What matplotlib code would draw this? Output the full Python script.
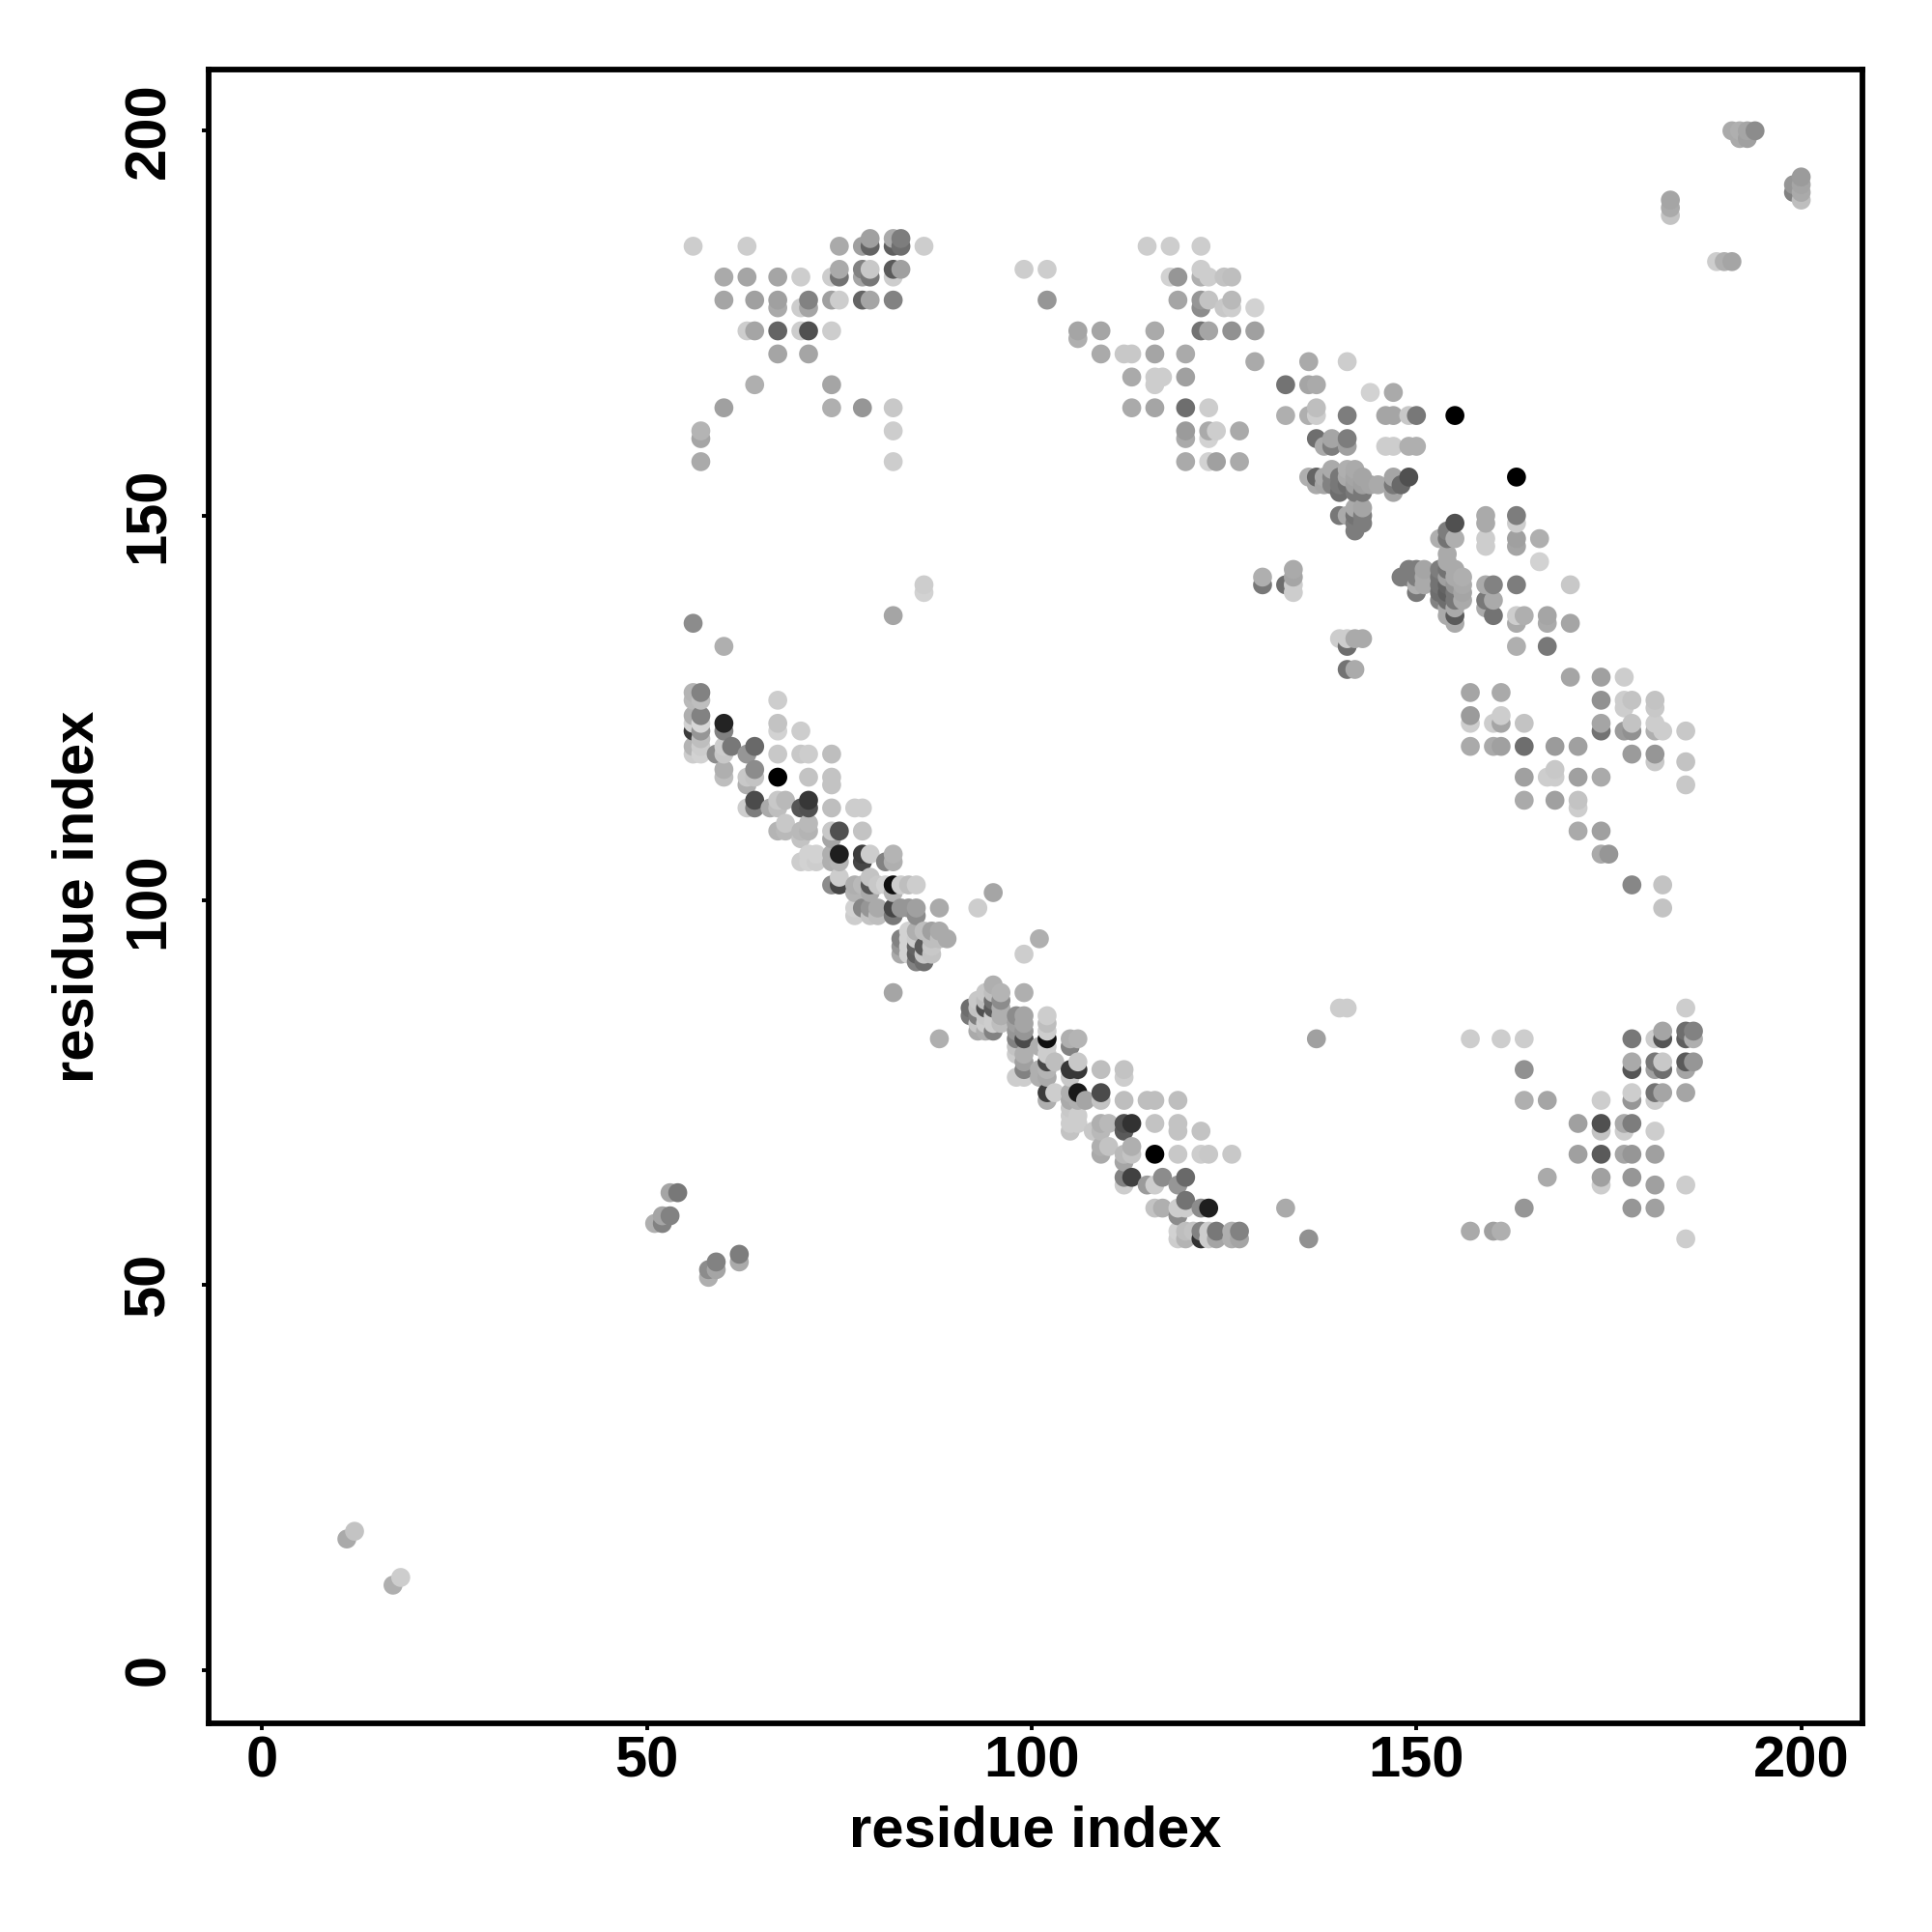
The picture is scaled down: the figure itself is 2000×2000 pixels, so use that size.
import numpy as np
import matplotlib
matplotlib.use("Agg")
import matplotlib.pyplot as plt

plt.rcParams['font.family'] = ['Liberation Sans', 'DejaVu Sans']
plt.rcParams['font.weight'] = 'bold'

# contacts: (residue x, residue y, grey level 0-255)
band_low_left = [
    (56,127,180),(56,126,185),(56,124,175),(56,123,210),(56,122,60),(56,120,180),(56,119,205),
    (57,127,130),(57,126,190),(57,124,130),(57,123,215),(57,122,150),(57,121,190),(57,120,205),(57,119,210),
    (59,119,140),(60,123,35),(60,122,130),(60,120,205),(60,119,200),(60,117,175),(60,116,190),(61,120,120),
    (63,119,150),(63,116,200),(63,115,175),(63,112,205),(64,120,105),(64,117,140),(64,116,195),(64,113,75),(64,112,125),
    (66,112,170),(67,126,205),(67,123,195),(67,122,210),(67,119,200),(67,116,0),(67,113,200),(67,112,190),(67,109,180),
    (68,113,185),(68,110,200),(68,109,185),(70,122,205),(70,119,200),(70,112,85),(70,109,185),(70,108,195),(70,105,205),
    (71,119,205),(71,116,195),(71,113,55),(71,112,80),(71,110,185),(71,109,180),(71,106,210),(71,105,210),(72,106,210),(72,105,205),
    (74,119,190),(74,116,195),(74,115,195),(74,112,190),(74,109,200),(74,108,165),(74,106,175),(74,105,175),(74,102,140),
    (75,109,80),(75,106,30),(75,105,180),(75,103,205),(75,102,70),
    (77,112,205),(77,102,175),(77,101,180),(77,99,210),(77,98,205),(78,112,205),(78,109,195),(78,106,60),(78,105,70),(78,102,185),(78,99,135),
    (79,106,205),(79,103,195),(79,102,85),(79,101,170),(79,99,150),(79,98,195),(80,102,200),(80,99,170),(80,98,190),
    (81,105,130),(81,102,210),(82,106,180),(82,105,175),(82,102,15),(82,101,180),(82,99,70),(82,98,120),(83,102,205),(83,99,150),
    (84,102,190),(84,99,150),(85,102,205),(85,99,160),(85,98,140),(88,99,170),(93,99,205),(95,101,165),
    (83,95,130),(83,94,150),(83,93,170),(84,96,210),(84,95,210),(84,94,210),(84,93,210),
    (85,96,175),(85,95,205),(85,94,100),(85,93,95),(85,92,130),(86,96,190),(86,94,90),(86,93,200),(86,92,110),
    (87,96,160),(87,95,190),(87,94,200),(87,93,195),(88,96,170),(88,95,190),(89,95,170),(82,88,165),(88,82,175),
]

band_low_right = [
    (99,93,205),(101,95,175),(99,88,175),
    (92,86,110),(92,85,120),(93,87,200),(93,86,195),(93,85,125),(93,84,200),(93,83,170),
    (94,88,200),(94,87,190),(94,86,80),(94,85,200),(94,84,205),(94,83,175),
    (95,89,175),(95,88,190),(95,87,110),(95,86,90),(95,85,205),(95,84,205),(95,83,130),
    (96,88,180),(96,87,140),(96,86,175),(96,85,175),(96,84,190),
    (98,85,140),(98,84,160),(98,83,150),(98,82,130),(98,81,195),(98,80,205),(98,77,205),
    (99,85,165),(99,84,165),(99,83,150),(99,82,75),(99,80,175),(99,79,160),(99,78,130),(99,77,205),
    (101,81,175),(101,78,175),(101,77,175),
    (102,85,205),(102,84,190),(102,83,205),(102,82,15),(102,81,205),(102,80,205),(102,79,70),(102,78,180),(102,77,170),(102,75,60),(102,74,175),
    (103,79,190),(103,75,205),
    (105,82,175),(105,81,130),(105,78,55),(105,77,200),(105,75,175),(105,74,170),(105,73,200),(105,72,205),(105,71,205),(105,70,195),
    (106,82,180),(106,79,200),(106,78,55),(106,75,25),(106,74,175),(106,72,205),(106,71,205),(107,74,165),(108,70,200),
    (109,78,190),(109,75,75),(109,74,195),(109,71,175),(109,70,185),(109,68,175),(109,67,170),(110,71,185),(110,68,195),
    (112,78,195),(112,77,205),(112,74,190),(112,71,80),(112,70,90),(112,67,185),(112,66,165),(112,64,130),(112,63,205),
    (113,71,50),(113,68,175),(113,67,195),(113,64,65),(115,74,190),(115,63,155),
    (116,74,190),(116,71,195),(116,67,0),(116,63,205),(116,60,195),(117,64,140),(117,60,175),
    (119,74,190),(119,71,195),(119,70,195),(119,67,200),(119,63,150),(119,60,205),(119,59,140),
    (120,64,105),(120,61,115),(120,60,205),(122,70,195),(122,67,205),(122,60,140),(123,67,200),(123,60,30),(126,67,200),
    (119,57,210),(119,56,205),(120,57,190),(120,56,180),(121,57,195),(122,57,130),(122,56,50),
    (123,57,205),(123,56,205),(124,57,120),(124,56,165),(126,57,175),(126,56,175),(127,57,130),(127,56,165),
]

cross_upper_left = [
    (56,185,205),(63,185,205),(75,185,170),(78,185,160),(79,186,160),(79,185,100),(82,186,170),(82,185,95),(83,186,125),(83,185,110),(86,185,205),
    (60,181,170),(63,181,165),(67,181,165),(70,181,205),(74,181,205),(75,182,170),(75,181,115),(78,182,130),(78,181,165),
    (79,182,200),(79,181,120),(82,182,90),(82,181,205),(83,182,160),
    (60,178,165),(64,178,160),(67,178,160),(67,177,170),(70,177,205),(71,178,130),(71,177,165),(74,178,160),(75,178,205),(78,178,100),(79,178,165),(82,178,130),
    (63,174,205),(64,174,165),(67,174,100),(70,174,205),(71,174,80),(74,174,205),(67,171,165),(71,171,165),(64,167,175),(74,167,165),
    (60,164,160),(74,164,175),(78,164,150),(82,164,200),(57,161,180),(57,160,165),(82,161,205),(57,157,170),(82,157,205),
    (56,136,140),(60,133,175),(82,137,165),(86,141,205),(86,140,210),
]

band_up_left = [
    (99,182,205),(102,182,205),(102,178,150),(106,174,165),(106,173,175),
    (115,185,205),(118,185,205),(122,185,205),(122,182,205),(118,181,210),(119,181,150),(122,181,175),(123,181,205),(125,181,195),(126,181,190),
    (119,178,165),(122,178,150),(123,178,195),(126,178,185),(122,177,140),(125,177,200),(126,177,205),(129,177,210),
    (109,174,165),(116,174,170),(122,174,115),(123,174,165),(126,174,145),(129,174,160),
    (109,171,170),(112,171,200),(113,171,200),(116,171,165),(120,171,170),(129,170,170),(136,170,170),(141,170,205),
    (113,168,170),(116,168,205),(117,168,205),(120,168,160),(116,167,205),(133,167,115),(136,167,165),(137,167,170),(144,166,210),(147,166,170),
    (113,164,170),(116,164,165),(120,164,110),(123,164,205),(133,163,175),(136,163,175),(137,164,190),(137,163,205),(141,163,125),
    (146,163,165),(147,163,165),(149,163,200),(150,163,120),(155,163,0),
    (120,161,155),(123,161,170),(124,161,205),(127,161,170),(120,160,170),(123,160,210),(137,160,110),(139,160,165),(141,160,125),
    (138,159,170),(139,159,125),(141,159,160),(146,159,205),(147,159,205),(149,159,175),(150,159,175),
    (120,157,170),(123,157,210),(124,157,160),(127,157,170),(139,156,170),(141,156,175),(142,156,170),
    (136,155,175),(137,155,100),(138,155,170),(139,155,130),(140,155,120),(141,155,170),(142,155,165),(143,155,165),(147,155,165),(149,155,80),(163,155,0),
    (137,154,170),(138,154,165),(139,154,130),(140,154,120),(141,154,110),(142,154,160),(143,154,160),(144,154,165),(145,154,170),(147,154,120),(148,154,105),
    (140,153,110),(142,153,120),(143,153,120),(147,153,165),(142,151,170),(143,151,165),
    (140,150,120),(141,150,170),(142,150,115),(143,150,125),(142,149,125),(143,149,125),(142,148,125),
]

band_up_right = [
    (159,150,170),(159,149,170),(159,147,205),(159,146,205),(163,150,125),(163,149,205),(163,147,160),(163,146,165),(166,147,175),(166,144,210),
    (155,149,80),(154,148,125),(153,147,175),(154,147,115),(155,147,175),(154,145,170),(154,144,170),
    (130,142,175),(130,141,120),(134,143,170),(134,142,165),(133,141,110),(134,141,205),(134,140,205),
    (149,143,125),(150,143,125),(151,143,165),(148,142,125),(149,142,125),(150,142,125),(151,142,170),
    (153,143,125),(154,143,115),(155,143,170),(153,142,115),(154,142,160),(155,142,170),(156,142,175),
    (150,141,175),(151,141,170),(153,141,115),(154,141,100),(155,141,150),(156,141,170),
    (150,140,120),(153,140,110),(154,140,95),(155,140,120),(156,140,165),
    (153,139,130),(154,139,110),(155,139,120),(156,139,170),(154,138,170),(155,138,170),(154,137,170),(155,137,90),(155,136,170),
    (159,141,170),(160,141,130),(163,141,125),(170,141,200),(159,139,120),(160,139,170),(159,138,170),(160,137,115),
    (163,137,205),(164,137,175),(163,136,170),(167,137,165),(167,136,170),(170,136,165),(163,133,175),(167,133,120),
    (140,134,205),(141,134,205),(142,134,170),(143,134,170),(141,133,110),(141,130,115),(142,130,170),
]

cross_upper_right = [
    (170,129,165),(174,129,160),(177,129,205),(157,127,165),(161,127,170),(174,126,145),(177,126,205),(178,126,195),(181,126,195),(177,125,205),(181,125,200),
    (157,124,155),(157,123,205),(160,123,205),(161,124,205),(161,123,165),(164,123,195),(174,123,165),(178,123,195),(181,123,205),
    (174,122,115),(177,122,155),(178,122,145),(181,122,175),(182,122,205),(185,122,200),
    (157,120,170),(160,120,170),(161,120,160),(164,120,110),(168,120,155),(171,120,160),(178,119,155),(181,119,150),(181,118,200),(185,118,195),
    (164,116,160),(167,116,205),(168,117,200),(168,116,205),(171,116,160),(174,116,170),(185,115,200),
    (164,113,170),(168,113,160),(171,113,195),(171,112,205),(171,109,170),(174,109,160),(174,106,170),(175,106,150),(178,102,135),(182,102,195),(182,99,195),
]

cross_lower_right = [
    (185,86,205),(157,82,205),(161,82,205),(164,82,205),(178,82,120),(181,82,205),(182,83,165),(182,82,85),(185,83,110),(185,82,95),(186,83,130),(186,82,175),
    (164,78,145),(178,79,170),(178,78,85),(181,79,120),(181,78,160),(182,79,200),(182,78,110),(185,79,90),(185,78,165),(186,79,150),
    (164,74,175),(167,74,165),(174,74,205),(178,75,205),(178,74,150),(181,75,115),(181,74,205),(182,75,165),(185,75,165),
    (171,71,160),(174,71,80),(174,70,195),(177,71,170),(177,70,205),(178,71,125),(181,70,205),
    (171,67,160),(174,67,90),(177,67,165),(178,67,150),(181,67,160),
    (167,64,170),(174,64,160),(174,63,205),(178,64,150),(181,63,160),(185,63,205),
    (164,60,150),(178,60,150),(181,60,160),(157,57,170),(160,57,160),(161,57,175),(185,56,205),
    (136,56,145),(133,60,170),(137,82,160),(140,86,205),(141,86,205),
]

small_patches = [
    (51,58,175),(52,58,130),(52,59,165),(53,59,130),(53,62,165),(54,62,120),
    (58,51,175),(58,52,140),(59,52,165),(59,53,130),(62,53,170),(62,54,125),
    (11,17,170),(12,18,195),(17,11,175),(18,12,205),
    (183,189,195),(183,190,170),(183,191,165),(189,183,205),(190,183,175),(191,183,165),
    (191,200,170),(192,200,175),(193,200,165),(194,200,140),(192,199,170),(193,199,160),
    (199,193,150),(199,192,130),(200,194,155),(200,193,165),(200,192,170),(200,191,190),
]

tick_values = [0, 50, 100, 150, 200]

contacts = np.array(band_low_left + band_low_right + cross_upper_left + band_up_left
                    + band_up_right + cross_upper_right + cross_lower_right + small_patches, dtype=float)
# later residues sit on top of earlier ones, same as the original draw order
contacts = contacts[np.lexsort((contacts[:, 1], contacts[:, 0]))]
grey = contacts[:, 2] / 255.0

fig = plt.figure(figsize=(10, 10), dpi=200)
ax = fig.add_axes([216 / 2000, 1 - 1784 / 2000, (1928 - 216) / 2000, (1784 - 72) / 2000])
ax.scatter(contacts[:, 0], contacts[:, 1], s=50, c=np.column_stack([grey, grey, grey]), linewidths=0)

ax.set_xlim(-6.96, 207.96)
ax.set_ylim(-6.96, 207.96)
ax.set_xticks(tick_values)
ax.set_yticks(tick_values)
ax.tick_params(axis='both', length=2.6, width=1.4, labelsize=21.5)
ax.tick_params(axis='x', pad=2)
ax.tick_params(axis='y', pad=14)
for lab in ax.get_yticklabels():
    lab.set_rotation(90)
    lab.set_rotation_mode('anchor')
    lab.set_ha('center')
    lab.set_va('baseline')
for side in ax.spines.values():
    side.set_linewidth(2.1)

ax.set_xlabel('residue index', fontsize=21.5, fontweight='bold', labelpad=6)
ax.set_ylabel('residue index', fontsize=21.5, fontweight='bold', labelpad=6.5)

plt.savefig('out.png', dpi=200)
plt.close()
